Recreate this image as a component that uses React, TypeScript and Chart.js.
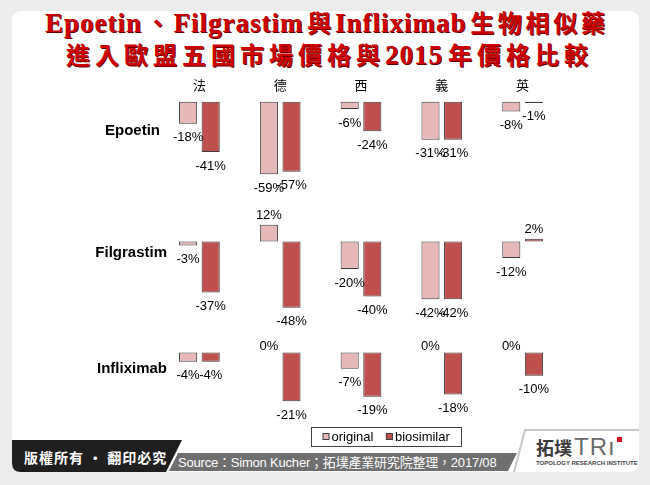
import React, { useEffect, useRef } from "react";
import { Chart, registerables } from "chart.js";

Chart.register(...registerables);

// ---- data ----
const countries = ["法", "德", "西", "義", "英"];
const drugs = ["Epoetin", "Filgrastim", "Infliximab"];
const seriesNames = ["original", "biosimilar"];

const epoetinOriginal = [-18, -59, -6, -31, -8];
const epoetinBiosimilar = [-41, -57, -24, -31, -1];
const filgrastimOriginal = [-3, 12, -20, -42, -12];
const filgrastimBiosimilar = [-37, -48, -40, -42, 2];
const infliximabOriginal = [-4, 0, -7, 0, 0];
const infliximabBiosimilar = [-4, -21, -19, -18, -10];

const titleLines = [
  "Epoetin、Filgrastim與Infliximab生物相似藥",
  "進入歐盟五國市場價格與2015年價格比較",
];

// ---- styles ----
const ORIGINAL_COLOR = "#e6b9b8";
const BIOSIMILAR_COLOR = "#c0504d";
const BAR_BORDER = "#3c3c3c";
const SANS = "'Liberation Sans', Arial, sans-serif";
const CJK = "'Noto Sans CJK TC', 'Noto Sans CJK SC', sans-serif";

const rowAxes = [
  { id: "yEpoetin", min: -80, max: 3, stackWeight: 102.1, layer: 3, labelAt: -24, shift: 1 },
  { id: "yFilgrastim", min: -67, max: 30, stackWeight: 133.9, layer: 2, labelAt: -8.5, shift: 8 },
  { id: "yInfliximab", min: -29, max: 8, stackWeight: 86.2, layer: 1, labelAt: -7, shift: 8 },
];

const rowSeries = [
  [epoetinOriginal, epoetinBiosimilar],
  [filgrastimOriginal, filgrastimBiosimilar],
  [infliximabOriginal, infliximabBiosimilar],
];

const valueLabels = {
  id: "valueLabels",
  afterDatasetsDraw(chart: any) {
    const ctx = chart.ctx;
    ctx.save();
    ctx.font = `13px ${SANS}`;
    ctx.fillStyle = "#000";
    ctx.textAlign = "center";
    chart.data.datasets.forEach((ds: any, di: number) => {
      const meta = chart.getDatasetMeta(di);
      meta.data.forEach((el: any, i: number) => {
        const v = ds.data[i];
        const { x, y } = el.getProps(["x", "y"], true);
        if (v < 0) {
          ctx.textBaseline = "top";
          ctx.fillText(`${v}%`, x, y + 7.5);
        } else {
          ctx.textBaseline = "bottom";
          ctx.fillText(`${v}%`, x, y - (v > 0 ? 3 : 0));
        }
      });
    });
    ctx.restore();
  },
};

const rowLabels = {
  id: "rowLabels",
  afterDraw(chart: any) {
    const ctx = chart.ctx;
    ctx.save();
    ctx.font = `bold 15px ${SANS}`;
    ctx.fillStyle = "#000";
    ctx.textAlign = "right";
    ctx.textBaseline = "middle";
    rowAxes.forEach((ax, r) => {
      const s = chart.scales[ax.id];
      ctx.fillText(drugs[r], chart.chartArea.left + ax.shift, s.getPixelForValue(ax.labelAt));
    });
    ctx.restore();
  },
};

const boxLegend = {
  id: "boxLegend",
  afterDraw(chart: any) {
    const ctx = chart.ctx;
    const left = 311.5;
    const top = 427.5;
    const w = 150;
    const h = 19;
    ctx.save();
    ctx.fillStyle = "#fff";
    ctx.fillRect(left, top, w, h);
    ctx.strokeStyle = "#404040";
    ctx.lineWidth = 1;
    ctx.strokeRect(left, top, w, h);
    ctx.font = `13px ${SANS}`;
    ctx.textBaseline = "middle";
    ctx.textAlign = "left";
    const cy = top + h / 2;
    let x = left + 11.5;
    [0, 1].forEach((k) => {
      const ds = chart.data.datasets[k];
      ctx.fillStyle = ds.backgroundColor;
      ctx.fillRect(x, cy - 3.5, 6, 6);
      ctx.strokeStyle = BAR_BORDER;
      ctx.strokeRect(x, cy - 3.5, 6, 6);
      x += 8.5;
      ctx.fillStyle = "#000";
      ctx.fillText(seriesNames[k], x, cy);
      x += ctx.measureText(seriesNames[k]).width + 13;
    });
    ctx.restore();
  },
};

function buildDatasets() {
  const out: any[] = [];
  rowAxes.forEach((ax, r) => {
    rowSeries[r].forEach((values, k) => {
      out.push({
        label: seriesNames[k],
        data: values,
        yAxisID: ax.id,
        stack: seriesNames[k],
        backgroundColor: k === 0 ? ORIGINAL_COLOR : BIOSIMILAR_COLOR,
        borderColor: BAR_BORDER,
        borderWidth: 1,
        borderSkipped: false,
        categoryPercentage: 0.56,
        barPercentage: 0.8,
      });
    });
  });
  return out;
}

function buildScales() {
  const scales: any = {
    x: {
      type: "category",
      position: "top",
      stacked: true,
      offset: true,
      grid: { display: false, drawTicks: false },
      border: { display: false },
      ticks: {
        font: { family: CJK, size: 13 },
        color: "#000",
        padding: 5,
        maxRotation: 0,
        autoSkip: false,
      },
      afterFit: (s: any) => {
        s.height = 20;
      },
    },
  };
  rowAxes.forEach((ax) => {
    scales[ax.id] = {
      type: "linear",
      position: "left",
      stack: "rows",
      stackWeight: ax.stackWeight,
      weight: ax.layer,
      min: ax.min,
      max: ax.max,
      stacked: false,
      grid: { display: false, drawTicks: false },
      border: { display: false },
      ticks: { display: false },
      afterFit: (s: any) => {
        s.width = 159;
      },
    };
  });
  return scales;
}

function splitRuns(text: string) {
  const runs: { t: string; cjk: boolean }[] = [];
  const re = /[\u3000-\u9fff\uff00-\uffef]+|[^\u3000-\u9fff\uff00-\uffef]+/g;
  let m: RegExpExecArray | null;
  while ((m = re.exec(text))) {
    runs.push({ t: m[0], cjk: /[\u3000-\u9fff\uff00-\uffef]/.test(m[0]) });
  }
  return runs;
}

function TitleLine({ text, top, left, width }: { text: string; top: number; left: number; width: number }) {
  return (
    <div
      style={{
        position: "absolute",
        left,
        top,
        width,
        textAlign: "justify",
        textAlignLast: "justify",
        textJustify: "inter-character",
        fontFamily: "'Liberation Serif', 'Times New Roman', serif",
        fontWeight: "bold",
        fontSize: 27,
        lineHeight: "27px",
        letterSpacing: 1,
        color: "#cc0000",
        textShadow: "1px 1px 0 #6a0000",
        whiteSpace: "nowrap",
      } as any}
    >
      {splitRuns(text).map((r, i) =>
        r.cjk ? (
          <span key={i} style={{ fontFamily: CJK, fontSize: 24, letterSpacing: 0, lineHeight: 0 }}>
            {r.t}
          </span>
        ) : (
          <span key={i}>{r.t}</span>
        )
      )}
    </div>
  );
}

export default function App() {
  const canvasRef = useRef<HTMLCanvasElement | null>(null);

  useEffect(() => {
    if (!canvasRef.current) return;
    const chart = new Chart(canvasRef.current, {
      type: "bar",
      data: { labels: countries, datasets: buildDatasets() },
      options: {
        responsive: false,
        animation: false,
        devicePixelRatio: 1,
        events: [],
        layout: { padding: { top: 78, bottom: 65, left: 0, right: 87 } },
        plugins: {
          legend: { display: false },
          tooltip: { enabled: false },
          title: { display: false },
        },
        scales: buildScales(),
      } as any,
      plugins: [valueLabels, rowLabels, boxLegend],
    });
    return () => chart.destroy();
  }, []);

  return (
    <div
      style={{
        position: "fixed",
        left: 0,
        top: 0,
        width: 650,
        height: 485,
        background: "#ececec",
        overflow: "hidden",
      }}
    >
      <svg width={650} height={485} style={{ position: "absolute", left: 0, top: 0 }}>
        <rect x={12} y={11} width={627} height={461} rx={9} fill="#ffffff" />
        <path d="M12,440 L182,440 L166,472 L21,472 Q12,472 12,463 Z" fill="#1f1f1f" />
        <path d="M178,453 L517,453 L508,471 L169,471 Z" fill="#6f6f6f" />
        <polyline points="514,472 525,430 639,430" fill="none" stroke="#c8c8c8" strokeWidth={2} />
        <rect x={617} y={437} width={5} height={5} fill="#e0001b" />
      </svg>
      <TitleLine text={titleLines[0]} top={10} left={45} width={560} />
      <TitleLine text={titleLines[1]} top={42} left={66} width={522} />
      <div
        style={{
          position: "absolute",
          left: 24,
          top: 447,
          lineHeight: "20px",
          fontFamily: CJK,
          fontWeight: "bold",
          fontSize: 14,
          letterSpacing: 1,
          color: "#fff",
          whiteSpace: "nowrap",
        }}
      >
        版權所有 · 翻印必究
      </div>
      <div
        style={{
          position: "absolute",
          left: 178,
          top: 453,
          lineHeight: "19px",
          fontFamily: `'Liberation Sans', Arial, ${CJK}`,
          fontSize: 13,
          letterSpacing: -0.2,
          color: "#fff",
          whiteSpace: "nowrap",
        }}
      >
        Source：Simon Kucher；拓墣產業研究院整理，2017/08
      </div>
      <div
        style={{
          position: "absolute",
          left: 536,
          top: 436,
          lineHeight: "22px",
          fontFamily: CJK,
          fontWeight: "bold",
          fontSize: 18,
          color: "#3a3a3a",
          whiteSpace: "nowrap",
        }}
      >
        拓墣
      </div>
      <div
        style={{
          position: "absolute",
          left: 574,
          top: 435,
          lineHeight: "24px",
          fontFamily: SANS,
          fontSize: 24,
          color: "#6a6a6a",
          whiteSpace: "nowrap",
          letterSpacing: 1,
        }}
      >
        TRı
      </div>
      <div
        style={{
          position: "absolute",
          left: 536,
          top: 459,
          lineHeight: "8px",
          fontFamily: SANS,
          fontWeight: "bold",
          fontSize: 6,
          color: "#444",
          whiteSpace: "nowrap",
        }}
      >
        TOPOLOGY RESEARCH INSTITUTE
      </div>
      <canvas
        ref={canvasRef}
        width={650}
        height={485}
        style={{ position: "absolute", left: 0, top: 0 }}
      />
    </div>
  );
}
